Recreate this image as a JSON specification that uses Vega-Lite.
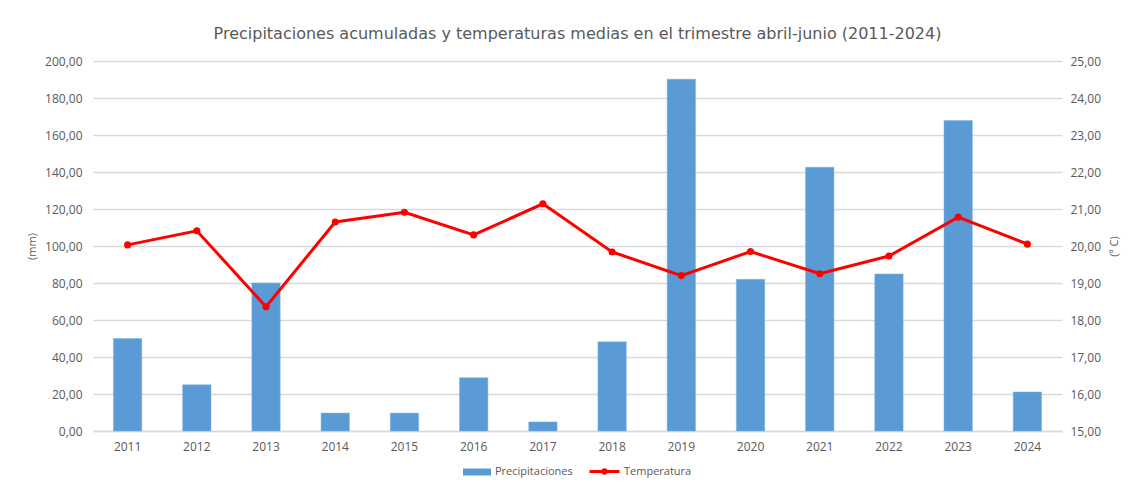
{
  "$schema": "https://vega.github.io/schema/vega-lite/v6.json",
  "width": 969,
  "height": 370,
  "autosize": {"type": "none"},
  "padding": {"left": 93, "top": 61, "right": 72, "bottom": 55},
  "background": "white",
  "title": {
    "text": "Precipitaciones acumuladas y temperaturas medias en el trimestre abril-junio (2011-2024)",
    "font": "DejaVu Sans",
    "fontSize": 16,
    "fontWeight": "normal",
    "color": "#595959",
    "anchor": "middle",
    "offset": 13
  },
  "data": {
    "values": [
      {"year": "2011", "precip": 50.0, "temp": 20.03},
      {"year": "2012", "precip": 25.0, "temp": 20.41},
      {"year": "2013", "precip": 80.0, "temp": 18.36},
      {"year": "2014", "precip": 9.7, "temp": 20.65},
      {"year": "2015", "precip": 9.7, "temp": 20.91},
      {"year": "2016", "precip": 28.8, "temp": 20.30},
      {"year": "2017", "precip": 4.9, "temp": 21.14},
      {"year": "2018", "precip": 48.2, "temp": 19.84},
      {"year": "2019", "precip": 190.2, "temp": 19.20},
      {"year": "2020", "precip": 82.0, "temp": 19.85},
      {"year": "2021", "precip": 142.6, "temp": 19.25},
      {"year": "2022", "precip": 84.9, "temp": 19.73},
      {"year": "2023", "precip": 167.8, "temp": 20.78},
      {"year": "2024", "precip": 21.1, "temp": 20.05}
    ]
  },
  "encoding": {
    "x": {
      "field": "year",
      "type": "ordinal",
      "scale": {"paddingInner": 0.59, "paddingOuter": 0.295},
      "axis": {
        "title": null,
        "labelAngle": 0,
        "ticks": false,
        "domainColor": "#d9d9d9",
        "domainWidth": 1.5,
        "labelPadding": 10,
        "grid": false
      }
    }
  },
  "layer": [
    {
      "mark": {"type": "bar", "stroke": "#7fb2e0", "strokeWidth": 0.5},
      "encoding": {
        "y": {
          "field": "precip",
          "type": "quantitative",
          "scale": {"domain": [0, 200]},
          "axis": {
            "title": "(mm)",
            "titleAngle": 270,
            "titleFontWeight": "normal",
            "titleFontSize": 11,
            "titleColor": "#595959",
            "titleX": -61,
            "titleY": 185,
            "titleAlign": "center",
            "titleBaseline": "middle",
            "values": [0, 20, 40, 60, 80, 100, 120, 140, 160, 180, 200],
            "labelExpr": "replace(format(datum.value, '.2f'), '.', ',')",
            "domain": false,
            "ticks": false,
            "labelPadding": 11,
            "grid": true,
            "gridColor": "#d9d9d9",
            "gridWidth": 1.5
          }
        },
        "fill": {
          "datum": "Precipitaciones",
          "scale": {"domain": ["Precipitaciones"], "range": ["#5b9bd5"]},
          "legend": {
            "orient": "none",
            "direction": "horizontal",
            "legendX": 370,
            "legendY": 397,
            "title": null,
            "symbolSize": 784,
            "symbolType": "M-1,-0.25L1,-0.25L1,0.25L-1,0.25Z",
            "symbolStrokeWidth": 0,
            "labelOffset": 4
          }
        }
      }
    },
    {
      "mark": {"type": "line", "strokeWidth": 3},
      "encoding": {
        "y": {
          "field": "temp",
          "type": "quantitative",
          "scale": {"domain": [15, 25]},
          "axis": {
            "orient": "right",
            "title": "(º C)",
            "titleAngle": 270,
            "titleFontWeight": "normal",
            "titleFontSize": 11,
            "titleColor": "#595959",
            "titleX": 52,
            "titleY": 185,
            "titleAlign": "center",
            "titleBaseline": "middle",
            "values": [15, 16, 17, 18, 19, 20, 21, 22, 23, 24, 25],
            "labelExpr": "replace(format(datum.value, '.2f'), '.', ',')",
            "domain": false,
            "ticks": false,
            "labelPadding": 8,
            "grid": false
          }
        },
        "stroke": {
          "datum": "Temperatura",
          "scale": {"domain": ["Temperatura"], "range": ["#ff0000"]},
          "legend": {
            "orient": "none",
            "direction": "horizontal",
            "legendX": 495,
            "legendY": 394,
            "title": null,
            "symbolSize": 900,
            "symbolType": "M-1,0L1,0M-0.11,0A0.11,0.11 0 1,0 0.11,0A0.11,0.11 0 1,0 -0.11,0",
            "symbolStrokeWidth": 3,
            "labelOffset": 3
          }
        }
      }
    },
    {
      "mark": {"type": "point", "filled": true, "size": 50, "color": "#ff0000", "opacity": 1},
      "encoding": {
        "y": {"field": "temp", "type": "quantitative", "scale": {"domain": [15, 25]}, "axis": null}
      }
    }
  ],
  "resolve": {"scale": {"y": "independent"}},
  "config": {
    "font": "Open Sans",
    "view": {"stroke": null},
    "axis": {
      "labelFont": "Open Sans",
      "labelFontSize": 12,
      "labelColor": "#595959",
      "titleFont": "Open Sans"
    },
    "legend": {
      "labelFont": "Open Sans",
      "labelFontSize": 11,
      "labelColor": "#595959"
    }
  }
}
